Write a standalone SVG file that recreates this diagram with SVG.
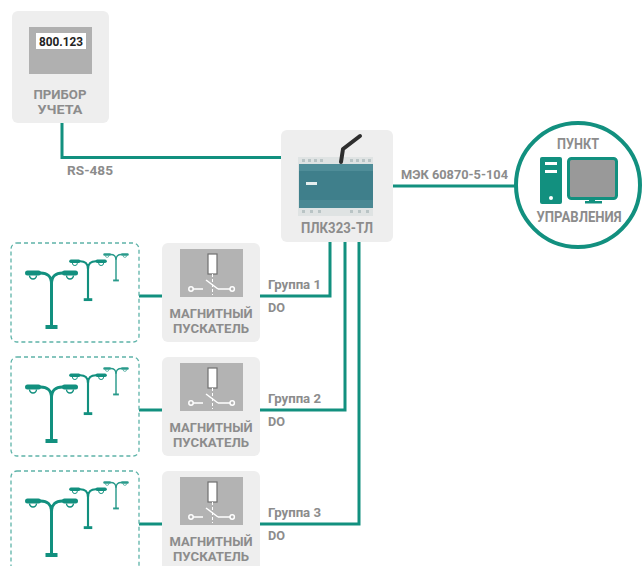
<svg xmlns="http://www.w3.org/2000/svg" xmlns:xlink="http://www.w3.org/1999/xlink" width="643" height="566" viewBox="0 0 643 566">
  <style>
    .card { fill: #eeeeee; }
    .lbl { font-family: Roboto, "Liberation Sans", sans-serif; font-weight: bold; fill: #8c8c8c; }
    .node-lbl { font-size: 12.6px; }
    .conn-lbl { font-size: 13px; }
    .wire { fill: none; stroke: #12907f; stroke-width: 3; }
    .lampbox { fill: none; stroke: #5db3a8; stroke-width: 1.3; stroke-dasharray: 4 3; }
    .icon { fill: #b3b3b3; }
    .sw { fill: none; stroke: #ffffff; stroke-width: 1.5; }
  </style>
  <defs>
    <!-- street lamp: origin at pole axis, level of the lamp heads -->
    <symbol id="lamp" overflow="visible">
      <g fill="#12907f" stroke="none">
        <rect x="-26.5" y="-3.5" width="16" height="5" rx="2.5"/>
        <rect x="10.5" y="-3.5" width="16" height="5" rx="2.5"/>
        <rect x="-6" y="51" width="12" height="4"/>
        <rect x="-1.5" y="6" width="3" height="47"/>
      </g>
      <g fill="none" stroke="#12907f">
        <path d="M-22,1.5 a3.5,3.5 0 0 0 7,0" stroke-width="1.4"/>
        <path d="M15,1.5 a3.5,3.5 0 0 0 7,0" stroke-width="1.4"/>
        <path d="M-12,-1 Q0,-1.5 0,10 Q0,-1.5 12,-1" stroke-width="3"/>
      </g>
    </symbol>
    <!-- group of three lamps inside a dashed frame -->
    <symbol id="lampgroup" overflow="visible">
      <use xlink:href="#lamp" href="#lamp" transform="translate(51.5,31)"/>
      <use xlink:href="#lamp" href="#lamp" transform="translate(88,19) scale(0.71)"/>
      <use xlink:href="#lamp" href="#lamp" transform="translate(116,12) scale(0.48)" opacity="0.9"/>
    </symbol>
    <!-- magnetic starter pictogram: coil over a contact -->
    <symbol id="starter" overflow="visible">
      <rect class="icon" x="18" y="6" width="63" height="48"/>
      <rect x="46" y="11" width="9" height="20" fill="#ffffff" stroke="#6f6f6f" stroke-width="1.2"/>
      <line x1="50.5" y1="31" x2="50.5" y2="52" stroke="#ffffff" stroke-width="1" stroke-dasharray="3 2"/>
      <circle cx="29" cy="46" r="2.2" class="sw"/>
      <line x1="31.2" y1="46" x2="41" y2="46" class="sw"/>
      <line x1="44" y1="37" x2="56" y2="46" class="sw"/>
      <line x1="56" y1="46" x2="68" y2="46" class="sw"/>
      <circle cx="70.2" cy="46" r="2.2" class="sw"/>
    </symbol>
  </defs>

  <!-- wiring -->
  <g id="connectors">
    <path class="wire" d="M62,123 V157.5 H281"/>
    <path class="wire" d="M393,186 H516"/>
    <path class="wire" d="M330,242 V296 H260"/>
    <path class="wire" d="M345,242 V410 H260"/>
    <path class="wire" d="M359,242 V524 H260"/>
    <path class="wire" d="M139,296 H162"/>
    <path class="wire" d="M139,410 H162"/>
    <path class="wire" d="M139,524 H162"/>
    <text class="lbl conn-lbl" x="67" y="175" textLength="46" lengthAdjust="spacingAndGlyphs">RS-485</text>
    <text class="lbl conn-lbl" x="401" y="179" textLength="107" lengthAdjust="spacingAndGlyphs">МЭК 60870-5-104</text>
    <text class="lbl conn-lbl" x="268" y="289" textLength="53" lengthAdjust="spacingAndGlyphs">Группа 1</text>
    <text class="lbl conn-lbl" x="268" y="312" textLength="17" lengthAdjust="spacingAndGlyphs">DO</text>
    <text class="lbl conn-lbl" x="268" y="403" textLength="53" lengthAdjust="spacingAndGlyphs">Группа 2</text>
    <text class="lbl conn-lbl" x="268" y="426" textLength="17" lengthAdjust="spacingAndGlyphs">DO</text>
    <text class="lbl conn-lbl" x="268" y="517" textLength="53" lengthAdjust="spacingAndGlyphs">Группа 3</text>
    <text class="lbl conn-lbl" x="268" y="540" textLength="17" lengthAdjust="spacingAndGlyphs">DO</text>
  </g>

  <!-- energy meter -->
  <g id="meter">
    <rect class="card" x="12" y="11" width="97" height="112" rx="6"/>
    <rect x="29" y="27" width="63" height="47" fill="#b0b0b0"/>
    <rect x="36" y="33" width="50" height="16" fill="#ffffff"/>
    <text x="61" y="46" text-anchor="middle" font-family="Roboto, 'Liberation Sans', sans-serif" font-weight="bold" font-size="12" fill="#222222" textLength="44" lengthAdjust="spacingAndGlyphs">800.123</text>
    <text class="lbl node-lbl" x="60" y="99" text-anchor="middle" textLength="53" lengthAdjust="spacingAndGlyphs">ПРИБОР</text>
    <text class="lbl node-lbl" x="60" y="114" text-anchor="middle" textLength="45" lengthAdjust="spacingAndGlyphs">УЧЕТА</text>
  </g>

  <!-- PLC controller -->
  <g id="plc">
    <rect class="card" x="281" y="130" width="112" height="112" rx="6"/>
    <rect x="298" y="157" width="75" height="59" fill="#dfe3e3"/>
    <rect x="299" y="164" width="74" height="44" fill="#3f7f8b"/>
    <rect x="299" y="164" width="74" height="7" fill="#4f8d98"/>
    <rect x="299" y="200" width="74" height="8" fill="#4a8893"/>
    <rect x="306" y="182" width="11" height="3" fill="#e6eeee"/>
    <g fill="#b9c4c5">
      <rect x="302" y="159" width="3" height="3"/><rect x="308" y="159" width="3" height="3"/>
      <rect x="314" y="159" width="3" height="3"/><rect x="320" y="159" width="3" height="3"/>
      <rect x="350" y="159" width="3" height="3"/><rect x="356" y="159" width="3" height="3"/>
      <rect x="362" y="159" width="3" height="3"/><rect x="368" y="159" width="3" height="3"/>
      <rect x="302" y="210" width="3" height="3"/><rect x="310" y="210" width="3" height="3"/>
      <rect x="318" y="210" width="3" height="3"/><rect x="350" y="210" width="3" height="3"/>
      <rect x="358" y="210" width="3" height="3"/><rect x="366" y="210" width="3" height="3"/>
    </g>
    <path d="M341,162 L343,149 L360,136" fill="none" stroke="#2e2e2e" stroke-width="4" stroke-linecap="round" stroke-linejoin="round"/>
    <text class="lbl node-lbl" x="337" y="233" text-anchor="middle" textLength="72" lengthAdjust="spacingAndGlyphs" style="font-size:14px">ПЛК323-ТЛ</text>
  </g>

  <!-- control room -->
  <g id="control">
    <circle cx="578" cy="185" r="62" fill="#ffffff" stroke="#12907f" stroke-width="4"/>
    <rect x="540" y="157" width="22" height="47" rx="2" fill="#12907f"/>
    <rect x="545" y="162" width="12" height="3" fill="#ffffff"/>
    <rect x="545" y="170" width="12" height="3" fill="#ffffff"/>
    <circle cx="551" cy="198" r="2" fill="#ffffff"/>
    <rect x="568.5" y="158.5" width="48" height="40" rx="3" fill="#999999" stroke="#12907f" stroke-width="3"/>
    <rect x="589" y="199" width="6" height="3" fill="#12907f"/>
    <rect x="585" y="201" width="17" height="2.5" fill="#12907f"/>
    <text class="lbl node-lbl" x="578" y="149" text-anchor="middle" textLength="42" lengthAdjust="spacingAndGlyphs" style="font-size:14px">ПУНКТ</text>
    <text class="lbl node-lbl" x="579" y="222" text-anchor="middle" textLength="85" lengthAdjust="spacingAndGlyphs" style="font-size:14px">УПРАВЛЕНИЯ</text>
  </g>

  <!-- lamp groups -->
  <g id="lamps1">
    <rect class="lampbox" x="11" y="243" width="128" height="99" rx="6"/>
    <use xlink:href="#lampgroup" href="#lampgroup" transform="translate(0,243)"/>
  </g>
  <g id="lamps2">
    <rect class="lampbox" x="11" y="357" width="128" height="99" rx="6"/>
    <use xlink:href="#lampgroup" href="#lampgroup" transform="translate(0,357)"/>
  </g>
  <g id="lamps3">
    <rect class="lampbox" x="11" y="471" width="128" height="110" rx="6"/>
    <use xlink:href="#lampgroup" href="#lampgroup" transform="translate(0,471)"/>
  </g>

  <!-- magnetic starters -->
  <g id="starter1">
    <rect class="card" x="162" y="243" width="98" height="99" rx="6"/>
    <use xlink:href="#starter" href="#starter" transform="translate(162,243)"/>
    <text class="lbl node-lbl" x="211" y="318" text-anchor="middle" textLength="83" lengthAdjust="spacingAndGlyphs">МАГНИТНЫЙ</text>
    <text class="lbl node-lbl" x="211" y="333" text-anchor="middle" textLength="76" lengthAdjust="spacingAndGlyphs">ПУСКАТЕЛЬ</text>
  </g>
  <g id="starter2">
    <rect class="card" x="162" y="357" width="98" height="99" rx="6"/>
    <use xlink:href="#starter" href="#starter" transform="translate(162,357)"/>
    <text class="lbl node-lbl" x="211" y="432" text-anchor="middle" textLength="83" lengthAdjust="spacingAndGlyphs">МАГНИТНЫЙ</text>
    <text class="lbl node-lbl" x="211" y="447" text-anchor="middle" textLength="76" lengthAdjust="spacingAndGlyphs">ПУСКАТЕЛЬ</text>
  </g>
  <g id="starter3">
    <rect class="card" x="162" y="471" width="98" height="110" rx="6"/>
    <use xlink:href="#starter" href="#starter" transform="translate(162,471)"/>
    <text class="lbl node-lbl" x="211" y="546" text-anchor="middle" textLength="83" lengthAdjust="spacingAndGlyphs">МАГНИТНЫЙ</text>
    <text class="lbl node-lbl" x="211" y="561" text-anchor="middle" textLength="76" lengthAdjust="spacingAndGlyphs">ПУСКАТЕЛЬ</text>
  </g>
</svg>
